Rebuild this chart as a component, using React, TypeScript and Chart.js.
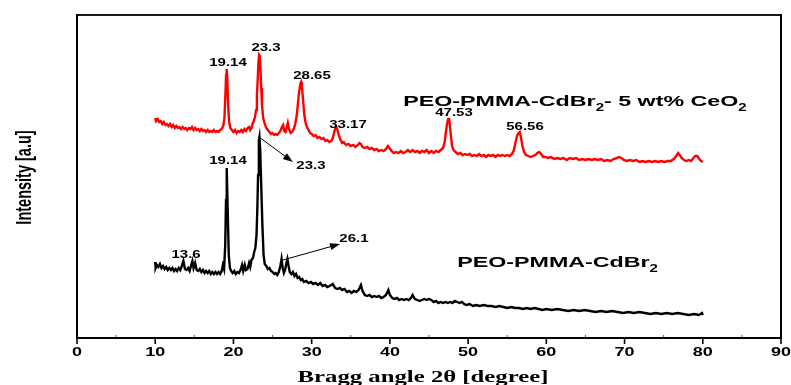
import React, { useEffect, useRef } from "react";
import { Chart, registerables } from "chart.js";
Chart.register(...registerables);

// ---- Data (arbitrary intensity units) ----
const blackAngle = [
  10.0, 10.05, 10.2, 10.4, 10.6, 10.8, 11.0, 11.2, 11.4, 11.6, 11.8, 12.0, 12.2, 12.4, 12.6, 12.8, 13.0, 13.2, 13.4, 13.6,
  13.8, 14.0, 14.2, 14.4, 14.6, 14.75, 14.9, 15.1, 15.3, 15.5, 15.7, 15.9, 16.1, 16.3, 16.5, 16.7, 16.9, 17.1, 17.3, 17.5,
  17.7, 17.9, 18.1, 18.3, 18.5, 18.65, 18.8, 18.95, 19.05, 19.14, 19.25, 19.4, 19.55, 19.7, 19.9, 20.1, 20.3, 20.5, 20.7, 20.9,
  21.1, 21.25, 21.45, 21.6, 21.8, 22.0, 22.15, 22.3, 22.5, 22.65, 22.8, 22.95, 23.05, 23.15, 23.25, 23.32, 23.42, 23.55, 23.7, 23.85,
  24.0, 24.2, 24.4, 24.6, 24.8, 25.0, 25.2, 25.4, 25.6, 25.8, 26.0, 26.15, 26.3, 26.45, 26.6, 26.75, 26.9, 27.05, 27.2, 27.4,
  27.6, 27.8, 28.0, 28.2, 28.4, 28.6, 28.8, 29.0, 29.3, 29.6, 29.9, 30.2, 30.5, 30.8, 31.1, 31.4, 31.7, 32.0, 32.3, 32.7,
  33.0, 33.3, 33.6, 33.9, 34.2, 34.5, 34.8, 35.1, 35.4, 35.7, 36.0, 36.3, 36.5, 36.8, 37.1, 37.4, 37.7, 38.0, 38.3, 38.6,
  38.9, 39.2, 39.5, 39.8, 40.0, 40.3, 40.6, 40.9, 41.2, 41.5, 41.8, 42.1, 42.4, 42.7, 42.9, 43.2, 43.5, 43.8, 44.1, 44.4,
  44.7, 45.0, 45.3, 45.6, 45.9, 46.2, 46.5, 46.8, 47.1, 47.4, 47.7, 48.0, 48.3, 48.6, 48.9, 49.2, 49.5, 49.8, 50.2, 50.6,
  51.0, 51.5, 52.0, 52.5, 53.0, 53.5, 54.0, 54.5, 55.0, 55.5, 56.0, 56.5, 57.0, 57.5, 58.0, 58.5, 59.0, 59.5, 60.0, 60.7,
  61.4, 62.1, 62.8, 63.5, 64.2, 64.9, 65.6, 66.3, 67.0, 67.7, 68.4, 69.1, 69.8, 70.5, 71.2, 71.9, 72.6, 73.3, 74.0, 74.7,
  75.4, 76.1, 76.8, 77.5, 78.2, 78.9, 79.5, 79.9, 80.0,
];
const blackIntensity = [
  76, 70, 73, 71, 74, 70, 72, 69, 71, 68, 70, 68, 70, 67, 69, 67, 70, 68, 72, 77,
  69, 68, 70, 67, 73, 77, 70, 75, 68, 67, 69, 66, 68, 65, 67, 65, 67, 64, 66, 64,
  66, 64, 66, 64, 67, 73, 69, 93, 138, 170, 133, 83, 70, 67, 65, 67, 64, 66, 65, 68,
  73, 67, 73, 68, 69, 75, 71, 78, 80, 86, 90, 103, 128, 163, 198, 201, 188, 153, 113, 83,
  74, 72, 69, 70, 67, 66, 64, 65, 63, 66, 72, 79, 70, 65, 68, 74, 79, 72, 66, 64,
  66, 62, 64, 60, 61, 58, 59, 56, 57, 55, 56, 54, 55, 53, 55, 52, 53, 51, 52, 54,
  50, 49, 50, 48, 49, 46, 47, 45, 47, 46, 48, 53, 47, 43, 42, 43, 41, 42, 41, 42,
  40, 41, 43, 48, 43, 40, 39, 40, 38, 39, 38, 39, 38, 40, 43, 39, 38, 37, 38, 39,
  38, 39, 38, 36, 37, 35, 36, 35, 36, 35, 36, 35, 37, 36, 35, 36, 34, 33, 34, 32,
  33, 32, 33, 32, 32, 31, 32, 31, 30, 31, 30, 30, 29, 30, 29, 30, 29, 28, 29, 28,
  29, 28, 27, 28, 27, 28, 27, 26, 27, 26, 27, 26, 25, 26, 25, 26, 25, 24, 25, 24,
  25, 24, 25, 24, 23, 24, 23, 25, 23,
];

const redAngle = [
  10.0, 10.1, 10.3, 10.5, 10.7, 10.9, 11.1, 11.3, 11.5, 11.7, 11.9, 12.1, 12.3, 12.5, 12.7, 12.9, 13.1, 13.3, 13.5, 13.7,
  13.9, 14.1, 14.3, 14.5, 14.7, 14.9, 15.1, 15.3, 15.5, 15.7, 15.9, 16.1, 16.3, 16.5, 16.7, 16.9, 17.1, 17.3, 17.5, 17.7,
  17.9, 18.1, 18.3, 18.5, 18.7, 18.85, 18.97, 19.06, 19.14, 19.22, 19.32, 19.45, 19.6, 19.8, 20.0, 20.2, 20.4, 20.6, 20.8, 21.0,
  21.2, 21.4, 21.6, 21.8, 22.0, 22.15, 22.3, 22.45, 22.6, 22.75, 22.9, 23.0, 23.1, 23.2, 23.28, 23.36, 23.45, 23.55, 23.65, 23.8,
  24.0, 24.2, 24.4, 24.6, 24.8, 25.0, 25.2, 25.4, 25.6, 25.8, 26.0, 26.2, 26.35, 26.5, 26.65, 26.8, 26.95, 27.1, 27.3, 27.5,
  27.7, 27.9, 28.1, 28.25, 28.4, 28.55, 28.65, 28.75, 28.9, 29.05, 29.2, 29.4, 29.6, 29.8, 30.0, 30.25, 30.5, 30.75, 31.0, 31.25,
  31.5, 31.75, 32.0, 32.25, 32.5, 32.7, 32.85, 33.0, 33.17, 33.3, 33.5, 33.7, 33.9, 34.1, 34.4, 34.7, 35.0, 35.3, 35.6, 35.9,
  36.1, 36.3, 36.5, 36.8, 37.1, 37.4, 37.7, 38.0, 38.3, 38.6, 38.9, 39.2, 39.5, 39.75, 39.95, 40.2, 40.5, 40.8, 41.1, 41.4,
  41.7, 42.0, 42.3, 42.6, 42.9, 43.2, 43.5, 43.8, 44.1, 44.4, 44.7, 45.0, 45.3, 45.6, 45.9, 46.2, 46.5, 46.8, 47.0, 47.15,
  47.3, 47.45, 47.55, 47.65, 47.8, 47.95, 48.15, 48.4, 48.7, 49.0, 49.3, 49.6, 49.9, 50.2, 50.5, 50.8, 51.1, 51.4, 51.7, 52.0,
  52.3, 52.6, 52.9, 53.2, 53.5, 53.8, 54.1, 54.4, 54.7, 55.0, 55.3, 55.6, 55.85, 56.05, 56.25, 56.45, 56.6, 56.75, 56.95, 57.15,
  57.4, 57.7, 58.0, 58.3, 58.6, 58.85, 59.1, 59.35, 59.6, 59.9, 60.2, 60.6, 61.0, 61.4, 61.8, 62.2, 62.6, 63.0, 63.4, 63.8,
  64.2, 64.6, 65.0, 65.4, 65.8, 66.2, 66.6, 67.0, 67.4, 67.8, 68.2, 68.6, 69.0, 69.3, 69.6, 69.9, 70.3, 70.7, 71.1, 71.5,
  71.9, 72.3, 72.7, 73.1, 73.5, 73.9, 74.3, 74.7, 75.1, 75.5, 75.9, 76.3, 76.6, 76.85, 77.05, 77.3, 77.6, 77.9, 78.2, 78.5,
  78.8, 79.05, 79.3, 79.55, 79.8, 80.0,
];
const redIntensity = [
  220, 217, 219, 216, 217, 214, 216, 213, 214, 212, 214, 211, 213, 210, 212, 210, 211, 209, 211, 209,
  210, 208, 210, 209, 211, 208, 210, 208, 209, 207, 209, 207, 208, 206, 208, 206, 207, 206, 208, 206,
  207, 206, 208, 209, 212, 220, 243, 263, 269, 258, 233, 216, 210, 208, 206, 208, 205, 207, 206, 208,
  206, 209, 207, 210, 211, 208, 210, 214, 217, 221, 228, 243, 258, 276, 283, 282, 270, 250, 233, 220,
  214, 210, 208, 206, 204, 205, 203, 204, 203, 205, 207, 211, 213, 207, 206, 210, 215, 209, 205, 206,
  209, 214, 223, 235, 246, 254, 256, 252, 238, 224, 216, 211, 208, 205, 204, 202, 203, 200, 201, 199,
  200, 197, 198, 196, 197, 200, 205, 209, 211, 208, 202, 198, 195, 196, 193, 194, 192, 193, 191, 193,
  195, 194, 191, 190, 191, 189, 190, 188, 189, 187, 188, 187, 189, 192, 190, 187, 185, 186, 185, 187,
  185, 186, 188, 186, 188, 186, 187, 185, 187, 186, 188, 185, 187, 185, 187, 186, 188, 190, 196, 205,
  214, 219, 220, 214, 202, 192, 188, 186, 184, 185, 183, 184, 183, 184, 182, 183, 182, 184, 182, 183,
  181, 183, 182, 183, 181, 183, 182, 183, 182, 183, 182, 184, 188, 195, 202, 205, 206, 201, 192, 186,
  183, 182, 181, 182, 183, 185, 186, 184, 181, 181, 180, 181, 179, 180, 179, 180, 178, 180, 179, 180,
  178, 179, 178, 179, 178, 179, 178, 179, 177, 178, 177, 179, 180, 181, 180, 178, 177, 178, 177, 178,
  176, 177, 176, 177, 176, 177, 176, 177, 176, 177, 177, 179, 182, 185, 183, 180, 178, 177, 178, 177,
  180, 182, 182, 179, 177, 176,
];

const xTickValues = [0, 10, 20, 30, 40, 50, 60, 70, 80, 90];
const xMinorTickValues = [5, 15, 25, 35, 45, 55, 65, 75, 85];

const peakLabels = ["19.14", "23.3", "28.65", "33.17", "47.53", "56.56", "19.14", "13.6", "23.3", "26.1"];
const peakLabelAngle = [19.3, 24.16, 30.04, 34.65, 48.2, 57.27, 19.3, 13.94, 29.9, 35.4];
const peakLabelIntensity = [275, 290, 262, 213, 225, 211, 177, 83, 172, 99];

const arrowStartAngle = [23.27, 26.34];
const arrowStartIntensity = [201, 78];
const arrowEndAngle = [27.6, 33.62];
const arrowEndIntensity = [176, 94];

const seriesNames = ["PEO-PMMA-CdBr|2|- 5 wt% CeO|2", "PEO-PMMA-CdBr|2"];
const seriesNameAngle = [41.7, 48.6];
const seriesNameIntensity = [236, 75];

const xTitle = "Bragg angle 2θ [degree]";
const yTitle = "Intensity [a.u]";

const SX = 1.5; // horizontal stretch of the reference's lettering

function stretchedText(ctx: CanvasRenderingContext2D, s: string, x: number, y: number, font: string, align: CanvasTextAlign) {
  ctx.save();
  ctx.translate(x, y);
  ctx.scale(SX, 1);
  ctx.font = font;
  ctx.textAlign = align;
  ctx.textBaseline = "middle";
  ctx.fillText(s, 0, 0);
  ctx.restore();
}

function seg(ctx: CanvasRenderingContext2D, x1: number, y1: number, x2: number, y2: number, w: number, c: string) {
  ctx.save();
  ctx.strokeStyle = c;
  ctx.lineWidth = w;
  ctx.beginPath();
  ctx.moveTo(x1, y1);
  ctx.lineTo(x2, y2);
  ctx.stroke();
  ctx.restore();
}

function drawFrame(chart: any) {
  const ctx: CanvasRenderingContext2D = chart.ctx;
  const a = chart.chartArea;
  ctx.save();
  ctx.globalAlpha = 1;
  ctx.globalCompositeOperation = "source-over";
  ctx.setTransform(1, 0, 0, 1, 0, 0);
  ctx.fillStyle = "#1a1a1a";
  ctx.fillRect(a.left - 1, a.top - 1, a.right - a.left + 2, 2);
  ctx.fillStyle = "#000";
  ctx.fillRect(a.right - 1, a.top - 1, 2, a.bottom - a.top + 2);
  ctx.fillRect(a.left - 1, a.top - 1, 2, a.bottom - a.top + 2);
  ctx.fillRect(a.left - 1, a.bottom - 1, a.right - a.left + 2, 2);
  ctx.restore();
}

const decorPlugin = {
  id: "decor",
  afterDraw(chart: any) {
    const ctx: CanvasRenderingContext2D = chart.ctx;
    const xs = chart.scales.x;
    const ys = chart.scales.y;
    const a = chart.chartArea;
    const T = a.top, B = a.bottom;
    ctx.save();
    ctx.fillStyle = "#000";
    for (const v of xTickValues) {
      stretchedText(ctx, String(v), xs.getPixelForValue(v), B + 15, "bold 12px 'Liberation Sans', Arial, sans-serif", "center");
    }
    stretchedText(ctx, xTitle, 423, B + 40, "bold 16.5px 'Liberation Serif', serif", "center");
    ctx.save();
    ctx.translate(25, (T + B) / 2 + 1);
    ctx.scale(1.55, 1);
    ctx.rotate(-Math.PI / 2);
    ctx.font = "bold 14.5px 'Liberation Sans Narrow', 'Liberation Sans', Arial, sans-serif";
    ctx.textAlign = "center";
    ctx.textBaseline = "middle";
    ctx.fillText(yTitle, 0, 0);
    ctx.restore();
    peakLabels.forEach((s, i) => {
      stretchedText(ctx, s, xs.getPixelForValue(peakLabelAngle[i]), ys.getPixelForValue(peakLabelIntensity[i]), "bold 10px 'Liberation Sans', Arial, sans-serif", "center");
    });
    arrowStartAngle.forEach((_, i) => {
      const x1 = xs.getPixelForValue(arrowStartAngle[i]);
      const y1 = ys.getPixelForValue(arrowStartIntensity[i]);
      const x2 = xs.getPixelForValue(arrowEndAngle[i]);
      const y2 = ys.getPixelForValue(arrowEndIntensity[i]);
      const ang = Math.atan2(y2 - y1, x2 - x1);
      const HL = 10, HW = 3.5;
      seg(ctx, x1, y1, x2 - HL * 0.7 * Math.cos(ang), y2 - HL * 0.7 * Math.sin(ang), 1, "#000");
      ctx.beginPath();
      ctx.moveTo(x2, y2);
      ctx.lineTo(x2 - HL * Math.cos(ang) - HW * Math.sin(ang), y2 - HL * Math.sin(ang) + HW * Math.cos(ang));
      ctx.lineTo(x2 - HL * Math.cos(ang) + HW * Math.sin(ang), y2 - HL * Math.sin(ang) - HW * Math.cos(ang));
      ctx.closePath();
      ctx.fill();
    });
    seriesNames.forEach((name, i) => {
      const parts = name.split("|");
      const x0 = xs.getPixelForValue(seriesNameAngle[i]);
      const y0 = ys.getPixelForValue(seriesNameIntensity[i]);
      ctx.save();
      ctx.translate(x0, y0);
      ctx.scale(SX, 1);
      ctx.textAlign = "left";
      ctx.textBaseline = "middle";
      let cx = 0;
      parts.forEach((p, k) => {
        const sub = k % 2 === 1;
        ctx.font = sub ? "bold 10px 'Liberation Sans', Arial, sans-serif" : "bold 15.5px 'Liberation Sans', Arial, sans-serif";
        ctx.fillText(p, cx, sub ? 6 : 0);
        cx += ctx.measureText(p).width;
      });
      ctx.restore();
    });
    for (const v of xTickValues) {
      const px = xs.getPixelForValue(v);
      seg(ctx, px, B, px, B + 6, 1.6, "#000");
    }
    for (const v of xMinorTickValues) {
      const px = xs.getPixelForValue(v);
      seg(ctx, px, B, px, B - 3, 1, "#555");
    }
    ctx.restore();
    drawFrame(chart);
  },
};

export default function App() {
  const ref = useRef<HTMLCanvasElement | null>(null);
  useEffect(() => {
    if (!ref.current) return;
    const chart = new Chart(ref.current, {
      type: "line",
      data: {
        datasets: [
          {
            label: "PEO-PMMA-CdBr2 - 5 wt% CeO2",
            data: redAngle.map((x, i) => ({ x, y: redIntensity[i] })),
            borderColor: "#ff0000",
            borderWidth: 2.4,
            pointRadius: 0,
            tension: 0,
          },
          {
            label: "PEO-PMMA-CdBr2",
            data: blackAngle.map((x, i) => ({ x, y: blackIntensity[i] })),
            borderColor: "#000000",
            borderWidth: 2.4,
            pointRadius: 0,
            tension: 0,
          },
        ],
      },
      options: {
        animation: false,
        responsive: false,
        layout: { padding: { top: 15, right: 10, left: 0, bottom: 0 } },
        plugins: { legend: { display: false }, tooltip: { enabled: false } },
        scales: {
          x: {
            type: "linear",
            min: 0,
            max: 90,
            ticks: { display: false },
            grid: { display: false },
            border: { display: false },
            afterFit: (s: any) => { s.height = 47; },
          },
          y: {
            min: 0,
            max: 323,
            ticks: { display: false },
            grid: { display: false },
            border: { display: false },
            afterFit: (s: any) => { s.width = 77; },
          },
        },
      },
      plugins: [decorPlugin],
    });
    return () => chart.destroy();
  }, []);
  return (
    <div style={{ position: "absolute", left: 0, top: 0, width: 791, height: 385, background: "#fff" }}>
      <canvas ref={ref} width={791} height={385} style={{ display: "block" }} />
    </div>
  );
}
